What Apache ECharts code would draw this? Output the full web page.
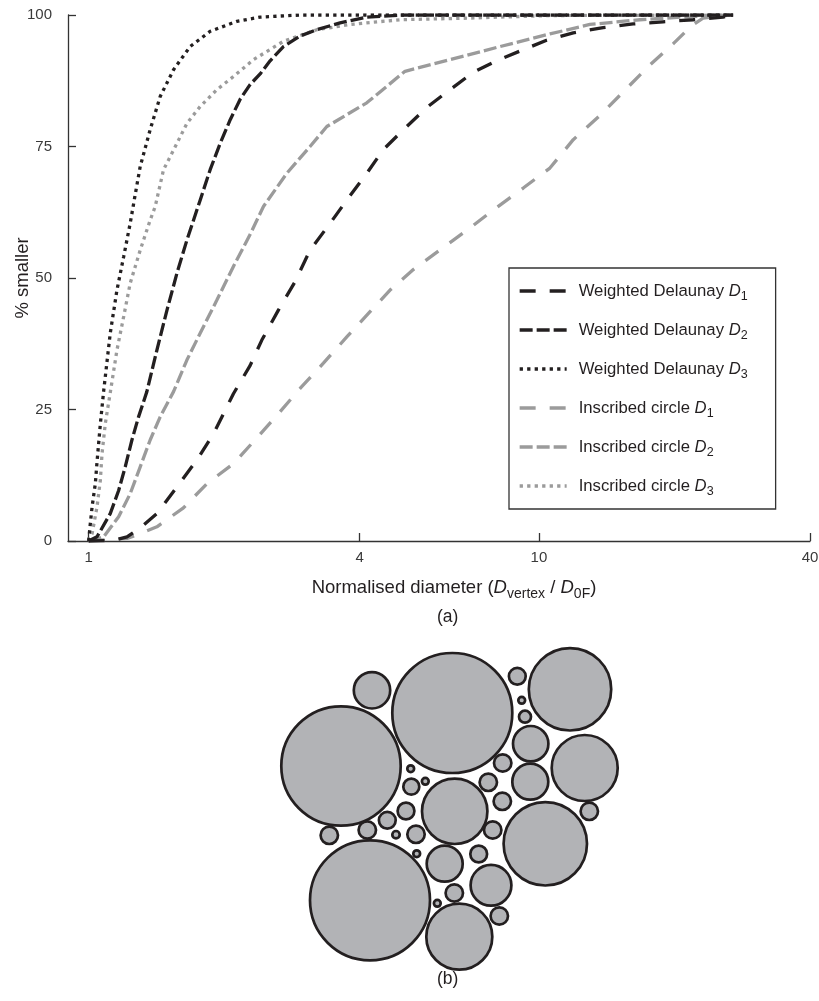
<!DOCTYPE html>
<html>
<head>
<meta charset="utf-8">
<script src="https://cdn.jsdelivr.net/npm/echarts@6/dist/echarts.min.js"></script>
<style>
html,body{margin:0;padding:0;background:#fff;}
#chart{width:819px;height:1001px;}
</style>
</head>
<body>
<div id="chart"></div>
<script>
// ---- data (a): cumulative % smaller vs normalised diameter ----
const xTicks = [1, 4, 10, 40];
const yTicks = [0, 25, 50, 75, 100];
const seriesNames = [
  'Weighted Delaunay D1', 'Weighted Delaunay D2', 'Weighted Delaunay D3',
  'Inscribed circle D1', 'Inscribed circle D2', 'Inscribed circle D3'
];
const wdD1 = [[1,0],[1.1,0.1],[1.16,0.3],[1.217,0.8],[1.302,2.5],[1.418,5.2],[1.571,10.3],[1.740,15.4],[1.894,20.4],[2.097,28],[2.285,33.4],[2.425,38.2],[2.639,43.9],[2.874,49.3],[3.103,55.3],[3.438,60.4],[3.744,64.8],[4.147,69.9],[4.512,74.4],[5.087,78.8],[5.634,82.4],[6.346,85.8],[7.148,89.1],[8.056,91.3],[9.231,93.4],[10.40,95.2],[11.92,96.6],[13.89,97.6],[16.19,98.3],[18.87,98.7],[22.0,99.1],[25.64,99.6],[27,100]];
const wdD2 = [[1,0],[1.044,0.8],[1.117,5.2],[1.166,9.6],[1.206,14.1],[1.248,19.2],[1.291,23.6],[1.347,28.4],[1.418,36.3],[1.493,43.9],[1.571,50.9],[1.653,57.2],[1.769,64.8],[1.862,70.6],[1.960,75.6],[2.063,80.1],[2.171,84.0],[2.285,86.8],[2.404,88.8],[2.530,91.3],[2.708,94],[2.949,96],[3.212,97.2],[3.618,98.5],[4.147,99.6],[5,100],[27,100]];
const wdD3 = [[1,0],[1.008,3],[1.018,6.5],[1.035,10.9],[1.044,15],[1.062,22.3],[1.08,28.5],[1.117,39.5],[1.156,47.7],[1.196,54],[1.237,60.4],[1.27,66],[1.302,71.2],[1.37,78.2],[1.442,84.5],[1.544,89.6],[1.681,94],[1.862,96.9],[2.135,98.8],[2.404,99.6],[2.95,100],[27,100]];
const icD1 = [[1,0],[1.217,0.5],[1.302,1.4],[1.418,2.7],[1.624,6.3],[1.831,10.9],[2.097,14.7],[2.364,19.6],[2.639,24.2],[2.949,29],[3.322,33.8],[3.744,38.8],[4.217,43.6],[4.671,47.7],[5.262,51.6],[6.134,55.8],[7.028,59.5],[8.056,63.4],[9.231,67.1],[10.58,70.9],[11.92,76.3],[13.66,80.9],[15.65,86],[17.64,90.5],[19.86,94.5],[21.8,97.9],[23.15,99.4],[26.5,100]];
const icD2 = [[1,0],[1.08,0.8],[1.166,4.6],[1.237,9],[1.302,14.1],[1.37,19.2],[1.442,23.6],[1.544,28.4],[1.653,34.4],[1.769,39.5],[1.927,45.8],[2.097,52.2],[2.285,58.3],[2.445,63.6],[2.755,69.9],[3.103,75],[3.381,78.8],[4.147,83.3],[5.043,89.3],[6.346,91.5],[8.196,94],[10.58,96.4],[12.98,98.2],[16.76,99.1],[21.63,99.7],[26.53,100]];
const icD3 = [[1,0],[1.018,1.4],[1.044,6.5],[1.062,11.6],[1.071,16.6],[1.089,22.3],[1.117,28.2],[1.156,36.3],[1.196,42.6],[1.237,49],[1.302,55.3],[1.370,61],[1.406,63.6],[1.467,70.6],[1.571,75.6],[1.653,79.4],[1.769,82.6],[1.927,85.8],[2.097,88.3],[2.323,91.5],[2.708,95],[3.212,97.2],[3.808,98.2],[4.915,99.1],[6.913,99.4],[10.58,99.9],[27,100]];

// ---- data (b): packed circles [x, y, radius] in diagram units ----
const circles = [
  [71,126,61],[182.3,73,61.3],[300,49.3,42.5],[314.7,128,34.3],[275.3,203.8,43],
  [100,260.3,61.3],[189.3,296.7,34.3],[184.7,171.3,34],[102,50.3,19.5],[247.3,36.3,9.7],
  [251.7,60.3,4.7],[255,76.7,7.3],[260.7,103.7,19],[260.3,141.7,19.3],[232.7,123,10],
  [218.3,142.3,10],[232.3,161.3,10],[319.3,171.3,10],[222.7,190,10],[208.7,214,9.7],
  [221,245.3,21.7],[174.7,223.7,19.3],[184.3,253,10],[167.3,263.3,4.7],[229.3,276,10],
  [146.7,213.7,4.7],[146,194.3,10],[126,194.7,5],[136,171,9.7],[141.3,146.7,9.3],
  [140.7,128.7,4.7],[155.3,141.3,4.7],[117.3,180.3,9.7],[97.3,190,10],[59.3,195.3,10]
];

const BLACK = '#231f20';
const GRAY = '#9b9b9b';
const FONT = '"Liberation Sans", Arial, Helvetica, sans-serif';
const seriesData = [wdD1, wdD2, wdD3, icD1, icD2, icD3];
const styles = [
  {color: BLACK, dash: [16, 14]},
  {color: BLACK, dash: [13, 4]},
  {color: BLACK, dash: [3.3, 4.2]},
  {color: GRAY, dash: [16, 14]},
  {color: GRAY, dash: [13, 4]},
  {color: GRAY, dash: [3.3, 4.2]}
];

const lineSeries = seriesNames.map((n, i) => ({
  name: n,
  type: 'line',
  xAxisIndex: 0, yAxisIndex: 0,
  data: seriesData[i],
  symbol: 'none',
  showSymbol: false,
  smooth: false,
  color: styles[i].color,
  lineStyle: {color: styles[i].color, width: 3.3, type: styles[i].dash, cap: 'butt'},
  z: 10 - i
}));

const chart = echarts.init(document.getElementById('chart'), null, {renderer: 'canvas'});
chart.setOption({
  animation: false,
  backgroundColor: '#fff',
  textStyle: {fontFamily: FONT},
  grid: [
    {left: 68, top: 15, width: 742, height: 526, containLabel: false, outerBoundsMode: 'none'},
    {left: 270, top: 640, width: 340, height: 340, containLabel: false, outerBoundsMode: 'none'}
  ],
  xAxis: [
    {
      type: 'log', gridIndex: 0, min: 0.9, max: 40, logBase: 10,
      axisLine: {onZero: false, lineStyle: {color: '#333', width: 1.3}},
      axisTick: {inside: true, length: 8, customValues: xTicks, lineStyle: {color: '#333', width: 1.3}},
      axisLabel: {customValues: xTicks, color: '#3a3a3a', fontSize: 15, margin: 9, fontFamily: FONT,
        formatter: v => String(Math.round(v))},
      splitLine: {show: false},
      minorTick: {show: false},
      name: 'Normalised diameter ({it|D}{sub|vertex} / {it|D}{sub|0F})',
      nameLocation: 'middle', nameGap: 34, nameMoveOverlap: false,
      nameTextStyle: {color: '#231f20', fontSize: 18.5, fontFamily: FONT, lineHeight: 26,
        padding: [0, 0, 0, 30],
        rich: {
          it: {fontStyle: 'italic', fontSize: 18.5, lineHeight: 26, fontFamily: FONT, color: '#231f20'},
          sub: {fontSize: 14, lineHeight: 18, verticalAlign: 'bottom', fontFamily: FONT, color: '#231f20'}
        }}
    },
    {type: 'value', gridIndex: 1, min: 0, max: 340, show: false}
  ],
  yAxis: [
    {
      type: 'value', gridIndex: 0, min: 0, max: 100, interval: 25,
      axisLine: {show: true, lineStyle: {color: '#333', width: 1.3}},
      axisTick: {show: true, inside: true, length: 8, lineStyle: {color: '#333', width: 1.3}},
      axisLabel: {color: '#3a3a3a', fontSize: 15, margin: 16, fontFamily: FONT},
      splitLine: {show: false},
      name: '% smaller', nameLocation: 'middle', nameGap: 36, nameRotate: 90, nameMoveOverlap: false,
      nameTextStyle: {color: '#231f20', fontSize: 18.5, fontFamily: FONT}
    },
    {type: 'value', gridIndex: 1, min: 0, max: 340, inverse: true, show: false}
  ],
  legend: {
    data: seriesNames,
    orient: 'vertical',
    left: 509, top: 268,
    padding: [11, 28, 11, 9],
    itemWidth: 47, itemHeight: 14, itemGap: 15,
    borderColor: '#333', borderWidth: 1.3, backgroundColor: '#fff',
    selectedMode: false,
    itemStyle: {opacity: 0},
    lineStyle: {width: 3.3},
    formatter: name => '{sp|}' + name.replace(/ D(\d)$/, ' {it|D}{sub|$1}'),
    textStyle: {
      color: '#231f20', fontSize: 16.7, fontFamily: FONT, lineHeight: 24,
      rich: {
        sp: {width: 7},
        it: {fontStyle: 'italic', fontSize: 16.7, lineHeight: 24, fontFamily: FONT, color: '#231f20'},
        sub: {fontSize: 12.5, lineHeight: 12, verticalAlign: 'bottom', fontFamily: FONT, color: '#231f20'}
      }
    }
  },
  graphic: [
    {type: 'text', left: 437, top: 608, style: {text: '(a)', font: '17.5px ' + FONT, fill: '#231f20'}, z: 100},
    {type: 'text', left: 437, top: 970, style: {text: '(b)', font: '17.5px ' + FONT, fill: '#231f20'}, z: 100}
  ],
  series: lineSeries.concat([{
    type: 'custom',
    name: 'circles',
    xAxisIndex: 1, yAxisIndex: 1,
    data: circles,
    encode: {x: 0, y: 1},
    renderItem: function (params, api) {
      const c = api.coord([api.value(0), api.value(1)]);
      const r = api.size([api.value(2), 0])[0];
      return {
        type: 'circle',
        shape: {cx: c[0], cy: c[1], r: Math.max(r - 1.3, 1)},
        style: {fill: '#b2b3b6', stroke: BLACK, lineWidth: 2.7}
      };
    }
  }])
});
</script>
</body>
</html>
